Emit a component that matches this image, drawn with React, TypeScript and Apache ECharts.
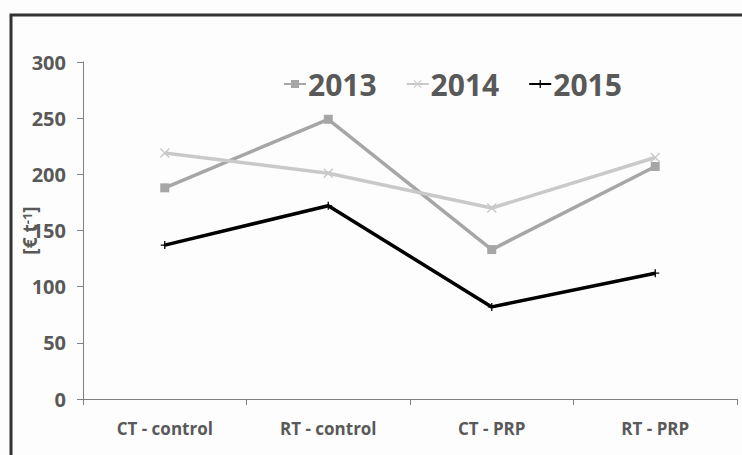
import React, { useEffect, useRef } from "react";
import * as echarts from "echarts";

const categories = ["CT - control", "RT - control", "CT - PRP", "RT - PRP"];
const seriesNames = ["2013", "2014", "2015"];
const values2013 = [188, 249, 133, 207];
const values2014 = [219, 201, 170, 215];
const values2015 = [137, 172, 82, 112];
const yTicks = { min: 0, max: 300, interval: 50 };

const FONT = "'Open Sans', 'Noto Sans', sans-serif";
const TXT = "#595959";

export default function App() {
  const ref = useRef<HTMLDivElement>(null);
  useEffect(() => {
    if (!ref.current) return;
    const chart = echarts.init(ref.current, null, { renderer: "svg" });
    const xSym = "path://M0,1 L1,0 L5,4 L9,0 L10,1 L6,5 L10,9 L9,10 L5,6 L1,10 L0,9 L4,5 Z";
    const plusSym = "path://M4.2,0 H5.8 V4.2 H10 V5.8 H5.8 V10 H4.2 V5.8 H0 V4.2 H4.2 Z";
    chart.setOption({
      animation: false,
      backgroundColor: "#fdfdfd",
      textStyle: { fontFamily: FONT },
      graphic: [
        {
          type: "rect",
          shape: { x: 11, y: 15, width: 800, height: 500 },
          style: { fill: "none", stroke: "#333", lineWidth: 3 },
          silent: true,
        },
      ],
      legend: {
        top: 64,
        left: 278,
        itemWidth: 22,
        itemHeight: 10,
        itemGap: 29,
        textStyle: { fontSize: 30, fontWeight: "bold", color: TXT, fontFamily: FONT, padding: [0, 0, 0, -3] },
        data: seriesNames,
      },
      grid: { left: 83, right: 5, top: 62, bottom: 56, containLabel: false, outerBoundsMode: "none" },
      xAxis: {
        type: "category",
        data: categories,
        boundaryGap: true,
        axisLine: { lineStyle: { color: "#7f7f7f", width: 1 } },
        axisTick: { show: true, length: 6, lineStyle: { color: "#7f7f7f" } },
        axisLabel: { fontSize: 17, fontWeight: "bold", color: TXT, margin: 21, fontFamily: FONT },
      },
      yAxis: {
        type: "value",
        min: yTicks.min,
        max: yTicks.max,
        interval: yTicks.interval,
        name: "[€ t{sup|-1}]",
        nameLocation: "middle",
        nameRotate: 90,
        nameGap: 43,
        nameMoveOverlap: false,
        nameTextStyle: {
          fontSize: 19,
          fontWeight: "bold",
          color: TXT,
          fontFamily: FONT,
          rich: {
            sup: { fontSize: 13, fontWeight: "bold", color: TXT, verticalAlign: "top", padding: [0, 0, 7, 0], fontFamily: FONT },
          },
        },
        axisLine: { show: true, lineStyle: { color: "#7f7f7f", width: 1 } },
        axisTick: { show: true, length: 6, lineStyle: { color: "#7f7f7f" } },
        splitLine: { show: false },
        axisLabel: { fontSize: 20, fontWeight: "bold", color: TXT, margin: 17, fontFamily: FONT },
      },
      series: [
        {
          name: seriesNames[0],
          type: "line",
          data: values2013,
          symbol: "rect",
          symbolSize: 9,
          lineStyle: { color: "#a6a6a6", width: 3.5 },
          itemStyle: { color: "#a6a6a6" },
        },
        {
          name: seriesNames[1],
          type: "line",
          data: values2014,
          symbol: xSym,
          symbolSize: 10,
          lineStyle: { color: "#c9c9c9", width: 3.5 },
          itemStyle: { color: "#c9c9c9" },
        },
        {
          name: seriesNames[2],
          type: "line",
          data: values2015,
          symbol: plusSym,
          symbolSize: 8,
          lineStyle: { color: "#000000", width: 3.5 },
          itemStyle: { color: "#000000" },
        },
      ],
    });
    return () => chart.dispose();
  }, []);
  return (
    <div
      ref={ref}
      style={{ position: "fixed", left: 0, top: 0, width: 742, height: 455 }}
    />
  );
}
